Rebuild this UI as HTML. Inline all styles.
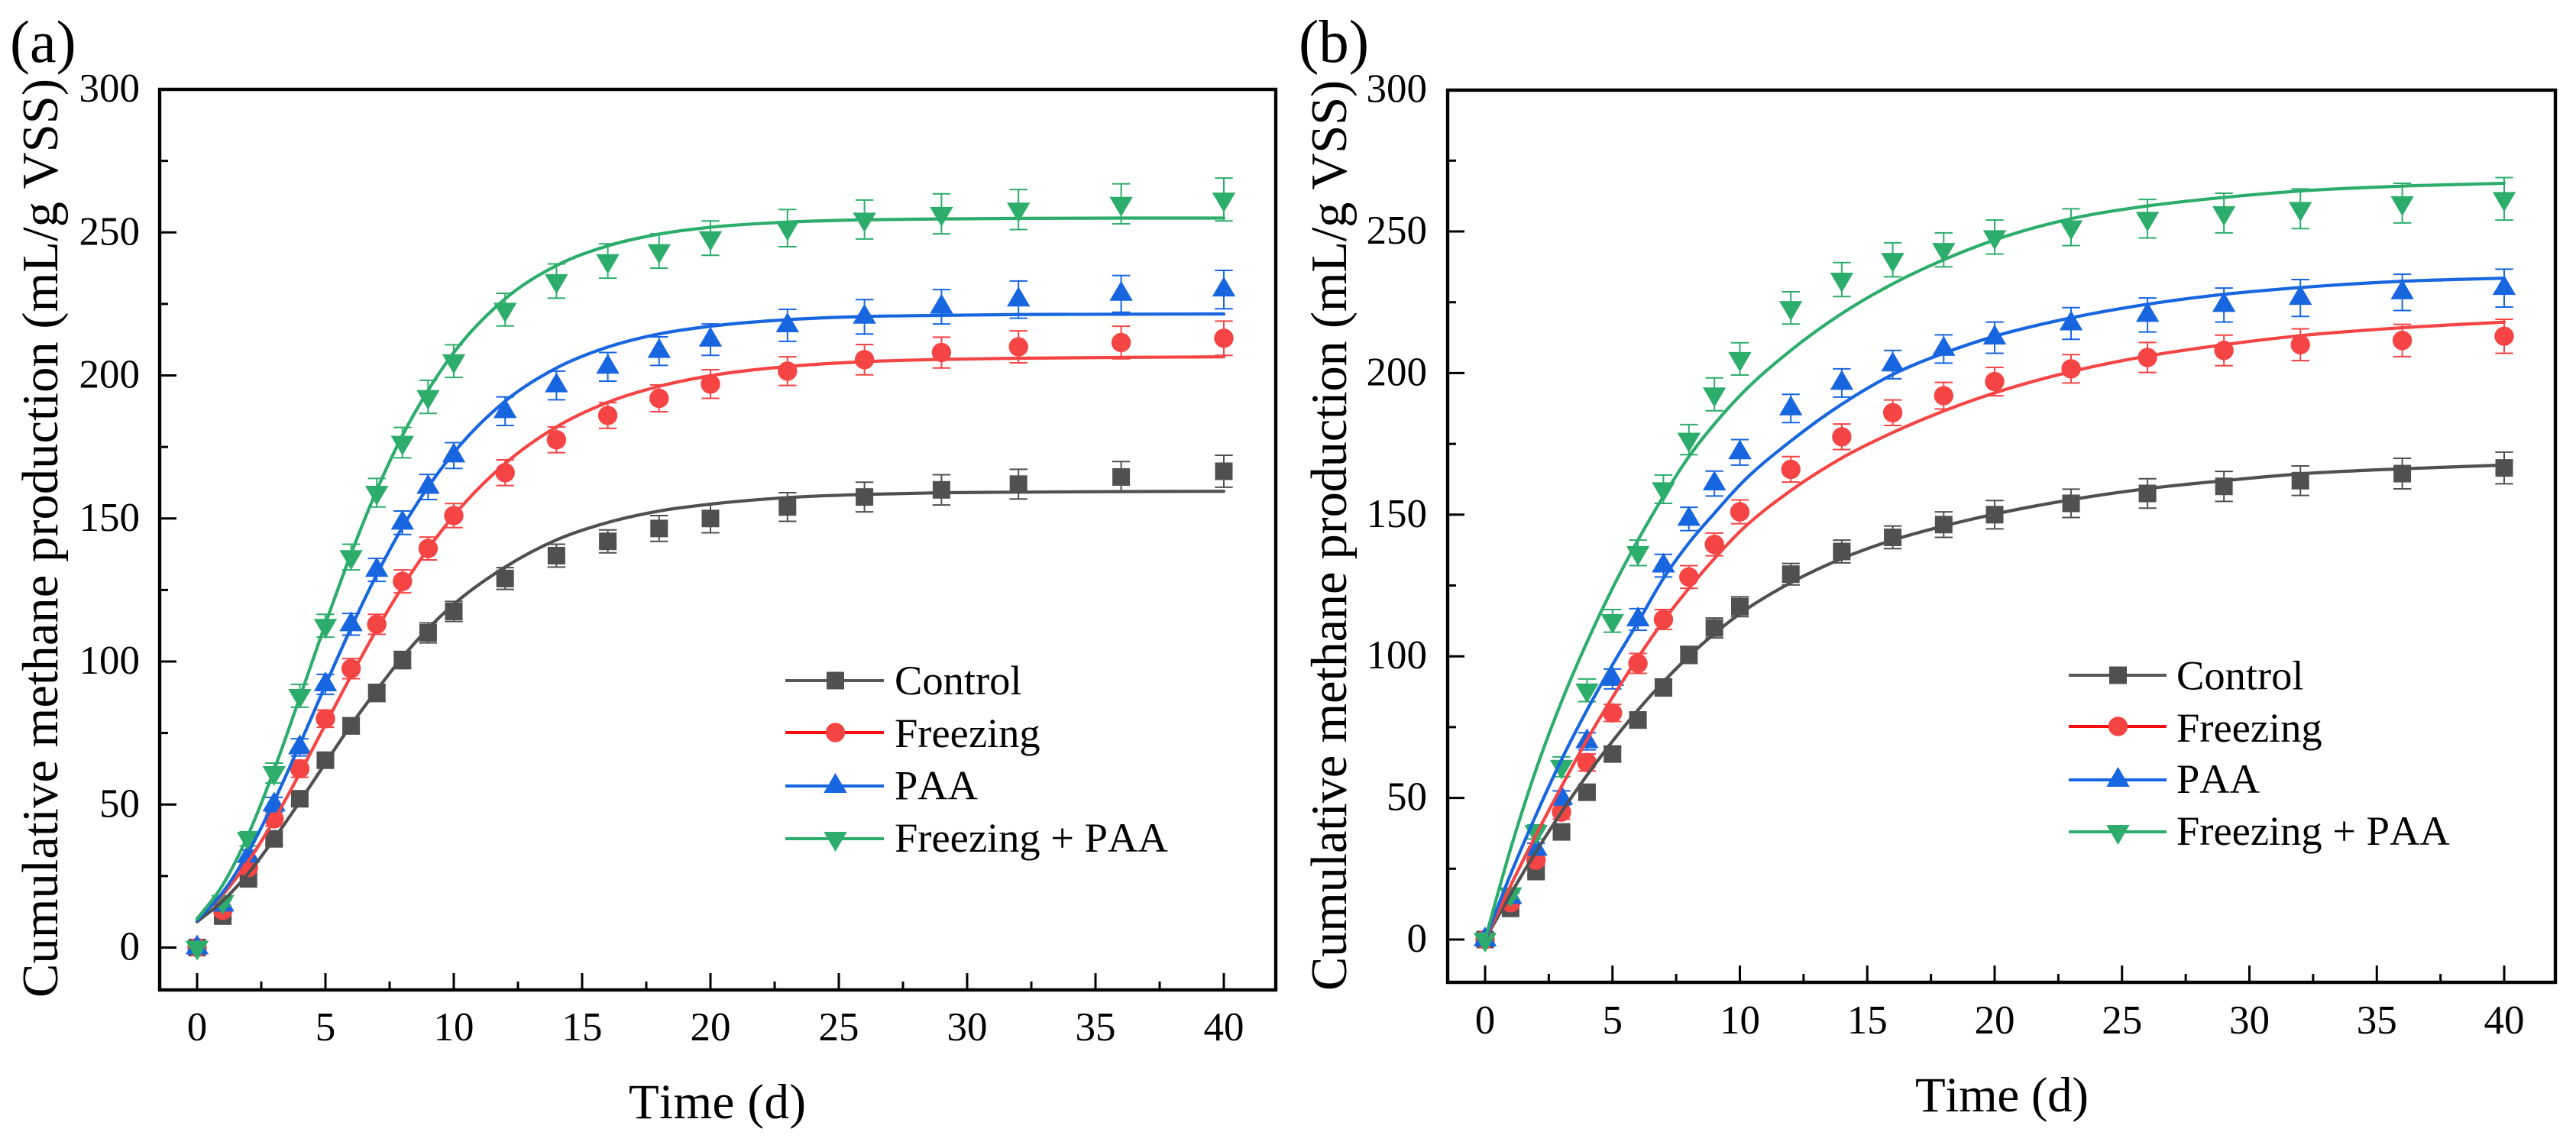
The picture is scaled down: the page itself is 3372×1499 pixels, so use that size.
<!DOCTYPE html>
<html lang="en">
<head>
<meta charset="utf-8">
<title>Cumulative methane production</title>
<style>
  html, body { margin: 0; padding: 0; background: #fff; }
  svg { display: block; }
  text { font-family: "Liberation Serif", "Times New Roman", serif; fill: #000; font-kerning: none; }
</style>
</head>
<body>
<svg id="figure" xmlns="http://www.w3.org/2000/svg" width="3372" height="1499" viewBox="0 0 3372 1499">
  <rect x="0" y="0" width="3372" height="1499" fill="#ffffff"/>
</svg>
<script>
// ---------- Data ----------
const days = [0,1,2,3,4,5,6,7,8,9,10,12,14,16,18,20,23,26,29,32,36,40];

const controlValues  = [0,11,24,38,52,65.5,77.5,89,100.5,110,117.5,129,137,142,146.5,150,154,157.5,160,162,164.5,166.5];
const freezingValues = [0,13,28,45,62.5,80,97.5,113,128,139.5,151,166,177.5,186,192,197,201.5,205.5,208,210,211.5,213];
const paaValues      = [0,15,32,50,70,92,113,132,148.5,161,172,187.5,196.5,203,208.5,212.5,217.5,220.5,224,226.5,228.5,230];
const mixValues      = [0,16,38,61,88,112.5,136.5,159,176.5,192.5,205,223,233,240,243.5,248,251.5,254.5,256.5,258,260,261.5];

const controlErrors  = [0,1,1.5,2,2.5,2.5,2.8,3,3,3.5,3.5,3.8,4,4,4.5,5,5,5.2,5.3,5.2,5.4,5.6];
const freezingErrors = [0,1.2,1.8,2.5,3,3,3.5,3.5,4,4,4.2,4.5,4.5,4.5,4.7,5,5,5.3,5.4,5.6,5.7,6];
const paaErrors      = [0,1.5,2,2.5,3,3.5,3.8,4,4.1,4.4,4.5,5,5,5,5,5.5,5.6,6,6,6.5,6.4,6.7];
const mixErrors      = [0,1.5,2.5,3.5,4,4,4.5,5,5.3,5.8,5.7,5.7,6,6,6,6,6.5,6.8,7,7,7,7.5];

// Fitted curves, panel (a)
const fitControlA  = [9,16.3,26,38,51,64.5,77.8,90,101.5,111.5,120,133,142.5,148.6,152.6,155,157.3,158.4,159,159.2,159.4,159.5];
const fitFreezingA = [10,18.5,30.2,44.6,60.9,78,95,111.2,126.1,139.4,151,169.2,182,190.6,196.2,199.9,203.1,204.8,205.6,206,206.3,206.5];
const fitPaaA      = [9.5,19.3,33.4,51.1,71,91.7,111.8,130.4,146.9,161,173,191,202.6,209.9,214.5,217.2,219.5,220.6,221,221.3,221.4,221.5];
const fitMixA      = [10,21.9,39.6,62.1,87.4,113.2,137.7,159.9,179,194.8,208,226.8,238.4,245.3,249.4,251.8,253.6,254.4,254.7,254.9,255,255];

// Fitted curves, panel (b)
const fitControlB  = [0,16,31,45,58,70,81,91,100,108,115,126,134.5,141,146,150.2,155.3,159.2,162,164.4,166.2,167.5];
const fitFreezingB = [0,19,37,54,70.5,85.5,99.5,112.5,124,134.5,144,158.5,170,179,186.6,193,200.5,206,210,213.2,216,218];
const fitPaaB      = [0,23,44,63.5,81,97,112,127.5,140,150.5,160.5,176,189,199.5,207,213,219.5,224.3,227.8,230.2,232.4,233.5];
const fitMixB      = [0,32,60,84,105,124,141,156.5,170.5,182,192,208,221,231.5,240,247,254.5,259,262,264.3,266,267];

const xMajorTicks = [0,5,10,15,20,25,30,35,40];
const xMinorTicks = [2.5,7.5,12.5,17.5,22.5,27.5,32.5,37.5];
const yMajorTicks = [0,50,100,150,200,250,300];
const yMinorTicks = [25,75,125,175,225,275];

const seriesNames = ['Control','Freezing','PAA','Freezing + PAA'];
const xAxisTitle = 'Time (d)';
const yAxisTitle = 'Cumulative methane production (mL/g VSS)';

// ---------- Styling and layout ----------
const seriesStyle = [
  {key:'control',  color:'#505050', legendLine:'#585858', shape:'square',   values:controlValues,  errors:controlErrors},
  {key:'freezing', color:'#f44444', legendLine:'#fb0a10', shape:'circle',   values:freezingValues, errors:freezingErrors},
  {key:'paa',      color:'#1766e0', legendLine:'#1766e0', shape:'up',       values:paaValues,      errors:paaErrors},
  {key:'mix',      color:'#2dad6b', legendLine:'#2dad6b', shape:'down',     values:mixValues,      errors:mixErrors}
];

const panels = [
  {id:'a', label:'(a)', labelX:13, labelSize:78,
   left:209, right:1670, top:117, bottom:1296, x0:258, xPerDay:33.6, y0:1240.5, yPerUnit:3.745,
   xLabelBase:1362, yLabelRight:183, xTitleX:823, xTitleBase:1464, xTitleLen:232,
   yTitleX:75, yTitleStart:1306, yTitleLen:1203,
   legendLine:[1028,1157], legendMarker:1093.5, legendTextX:1171,
   legendY:[891,959,1029,1098], legendBase:[909,978,1046.5,1115],
   fits:[fitControlA,fitFreezingA,fitPaaA,fitMixA]},
  {id:'b', label:'(b)', labelX:1700, labelSize:79,
   left:1895, right:3345, top:118, bottom:1286, x0:1944, xPerDay:33.35, y0:1230, yPerUnit:3.708,
   xLabelBase:1353, yLabelRight:1868, xTitleX:2507, xTitleBase:1455, xTitleLen:227,
   yTitleX:1762, yTitleStart:1297, yTitleLen:1192,
   legendLine:[2708,2836], legendMarker:2772.5, legendTextX:2849,
   legendY:[884,951,1021,1089], legendBase:[902.5,971,1038,1106],
   fits:[fitControlB,fitFreezingB,fitPaaB,fitMixB]}
];

const NS = 'http://www.w3.org/2000/svg';
const figure = document.getElementById('figure');

function make(tag, parent, attrs) {
  const el = document.createElementNS(NS, tag);
  for (const k in attrs) el.setAttribute(k, attrs[k]);
  parent.appendChild(el);
  return el;
}

function drawShape(parent, shape, cx, cy, color) {
  if (shape === 'square') {
    return make('rect', parent, {x:cx-11.5, y:cy-11.5, width:23, height:23, fill:color});
  }
  if (shape === 'circle') {
    return make('ellipse', parent, {cx:cx, cy:cy, rx:12.7, ry:12.7, fill:color});
  }
  if (shape === 'up') {
    return make('polygon', parent, {points:(cx)+','+(cy-17)+' '+(cx+15.2)+','+(cy+9)+' '+(cx-15.2)+','+(cy+9), fill:color});
  }
  return make('polygon', parent, {points:(cx)+','+(cy+17)+' '+(cx+15.2)+','+(cy-9)+' '+(cx-15.2)+','+(cy-9), fill:color});
}

// Smooth cubic path through the sampled curve values
function smoothPath(xs, ys) {
  const n = xs.length, d = [], m = [];
  for (let i = 0; i < n - 1; i++) d.push((ys[i+1]-ys[i])/(xs[i+1]-xs[i]));
  m[0] = d[0];
  m[n-1] = d[n-2];
  for (let i = 1; i < n - 1; i++) {
    const h0 = xs[i]-xs[i-1], h1 = xs[i+1]-xs[i];
    m[i] = (d[i-1]*h1 + d[i]*h0)/(h0+h1);
  }
  let s = 'M' + xs[0].toFixed(2) + ' ' + ys[0].toFixed(2);
  for (let i = 0; i < n - 1; i++) {
    const h = (xs[i+1]-xs[i])/3;
    s += ' C' + (xs[i]+h).toFixed(2) + ' ' + (ys[i]+m[i]*h).toFixed(2) + ' ' +
         (xs[i+1]-h).toFixed(2) + ' ' + (ys[i+1]-m[i+1]*h).toFixed(2) + ' ' +
         xs[i+1].toFixed(2) + ' ' + ys[i+1].toFixed(2);
  }
  return s;
}

panels.forEach(function (p) {
  const sx = function (v) { return p.x0 + v * p.xPerDay; };
  const sy = function (v) { return p.y0 - v * p.yPerUnit; };

  const g = make('g', figure, {});
  
  

  const panelLabel = make('text', g, {x:p.labelX, y:81, 'font-size':p.labelSize});
  panelLabel.textContent = p.label;
  
  

  // Data marks: error bars and markers
  seriesStyle.forEach(function (s) {
    const sg = make('g', g, {});
    
    
    days.forEach(function (d, i) {
      const cx = sx(d), cy = sy(s.values[i]);
      const top = sy(s.values[i] + s.errors[i]);
      const bot = sy(s.values[i] - s.errors[i]);
      if (s.errors[i] > 0) {
        const bar = make('path', sg, {
          d:'M'+(cx-11.7)+' '+top+' H'+(cx+11.7)+' M'+(cx-11.7)+' '+bot+' H'+(cx+11.7)+' M'+cx+' '+top+' V'+bot,
          stroke:s.color, 'stroke-width':2, fill:'none'});
        
        
      }
      const marker = drawShape(sg, s.shape, cx, cy, s.color);
      
      
    });
  });

  // Fitted curves
  seriesStyle.forEach(function (s, i) {
    const line = make('path', g, {
      d:smoothPath(days.map(sx), p.fits[i].map(sy)),
      fill:'none', stroke:s.color, 'stroke-width':4.2, 'stroke-linecap':'round'});
    
    
  });

  // Frame
  const frame = make('rect', g, {x:p.left, y:p.top, width:p.right-p.left, height:p.bottom-p.top,
    fill:'none', stroke:'#000', 'stroke-width':4.4});
  
  

  // X ticks
  xMajorTicks.forEach(function (t) {
    const tick = make('line', g, {x1:sx(t), x2:sx(t), y1:p.bottom, y2:p.bottom-22, stroke:'#000', 'stroke-width':3});
    
    
    const lab = make('text', g, {x:sx(t), y:p.xLabelBase, 'font-size':53, 'text-anchor':'middle'});
    lab.textContent = String(t);
    
    
  });
  xMinorTicks.forEach(function (t) {
    const tick = make('line', g, {x1:sx(t), x2:sx(t), y1:p.bottom, y2:p.bottom-11, stroke:'#000', 'stroke-width':3});
    
    
  });

  // Y ticks
  yMajorTicks.forEach(function (t) {
    const tick = make('line', g, {x1:p.left, x2:p.left+22, y1:sy(t), y2:sy(t), stroke:'#000', 'stroke-width':3});
    
    
    const lab = make('text', g, {x:p.yLabelRight, y:sy(t)+16, 'font-size':53, 'text-anchor':'end'});
    lab.textContent = String(t);
    
    
  });
  yMinorTicks.forEach(function (t) {
    const tick = make('line', g, {x1:p.left, x2:p.left+11, y1:sy(t), y2:sy(t), stroke:'#000', 'stroke-width':3});
    
    
  });

  // Axis titles
  const xt = make('text', g, {x:p.xTitleX, y:p.xTitleBase, 'font-size':65, textLength:p.xTitleLen});
  xt.textContent = xAxisTitle;
  
  

  const yt = make('text', g, {x:p.yTitleX, y:p.yTitleStart, 'font-size':66.5, textLength:p.yTitleLen,
    transform:'rotate(-90 ' + p.yTitleX + ' ' + p.yTitleStart + ')'});
  yt.textContent = yAxisTitle;
  
  

  // Legend
  const lg = make('g', g, {});
  
  
  seriesStyle.forEach(function (s, i) {
    const entry = make('g', lg, {});
    
    
    const ln = make('line', entry, {x1:p.legendLine[0], x2:p.legendLine[1], y1:p.legendY[i], y2:p.legendY[i],
      stroke:s.legendLine, 'stroke-width':4});
    
    
    const mk = drawShape(entry, s.shape, p.legendMarker, p.legendY[i], s.color);
    
    
    const tx = make('text', entry, {x:p.legendTextX, y:p.legendBase[i], 'font-size':54.5});
    tx.textContent = seriesNames[i];
    
    
  });
});
</script>
</body>
</html>
